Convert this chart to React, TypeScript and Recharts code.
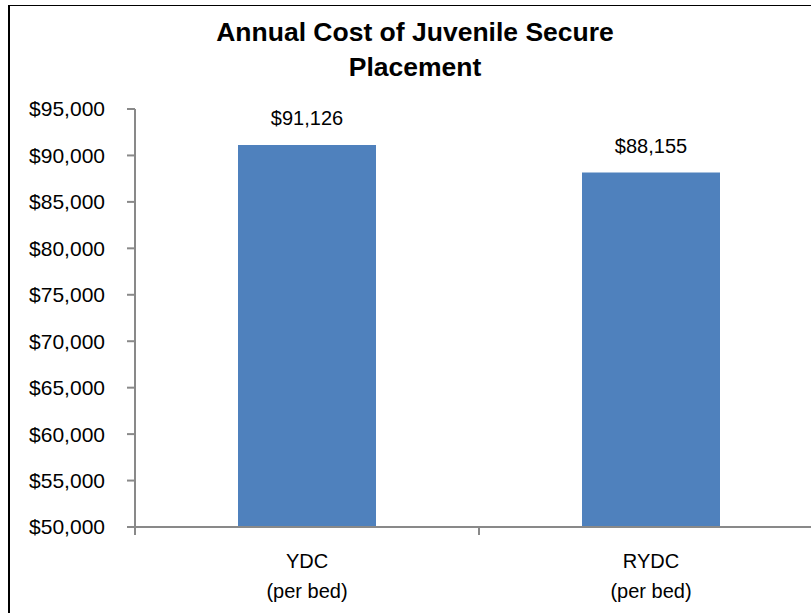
import React from "react";
import { BarChart, Bar, XAxis, YAxis, LabelList } from "recharts";

const categories = ["YDC", "RYDC"];
const categorySubLabels = ["(per bed)", "(per bed)"];
const costValues = [91126, 88155];
const yTicks = [50000, 55000, 60000, 65000, 70000, 75000, 80000, 85000, 90000, 95000];
const titleLines = ["Annual Cost of Juvenile Secure", "Placement"];

const data = categories.map((c, i) => ({
  name: c,
  sub: categorySubLabels[i],
  value: costValues[i],
}));

const CHART_W = 830;
const CHART_H = 613;
const MARGIN = { top: 109, right: 7, bottom: 0, left: 0 };
const Y_AXIS_W = 135;
const PLOT_W = CHART_W - MARGIN.left - MARGIN.right - Y_AXIS_W;
const BAND = PLOT_W / categories.length;
const AXIS_COLOR = "#898989";

const fmt = (v: number) => "$" + v.toLocaleString("en-US");

const CategoryTick = (props: any) => {
  const { x, y, payload, index } = props;
  const sub = categorySubLabels[index] ?? "(per bed)";
  const isLast = index === categories.length - 1;
  return (
    <g>
      <line x1={x - BAND / 2} x2={x - BAND / 2} y1={y} y2={y + 8} stroke={AXIS_COLOR} strokeWidth={2} />
      {isLast && (
        <line x1={x + BAND / 2} x2={x + BAND / 2} y1={y} y2={y + 8} stroke={AXIS_COLOR} strokeWidth={2} />
      )}
      <text x={x} y={y} textAnchor="middle" fill="#000" fontSize={20}>
        <tspan x={x} dy={41}>{payload.value}</tspan>
        <tspan x={x} dy={30}>{sub}</tspan>
      </text>
    </g>
  );
};

export default function App() {
  return (
    <div
      style={{
        position: "absolute",
        left: 0,
        top: 0,
        width: 811,
        height: 613,
        overflow: "hidden",
        background: "#fff",
        fontFamily: "'Liberation Sans', Arial, sans-serif",
      }}
    >
      <div
        style={{
          position: "absolute",
          left: 8,
          top: 5,
          width: 900,
          height: 700,
          borderLeft: "2px solid #000",
          borderTop: "1px solid #000",
        }}
      />
      <div
        style={{
          position: "absolute",
          left: 0,
          top: 15,
          width: 830,
          textAlign: "center",
          fontWeight: "bold",
          fontSize: 26.5,
          lineHeight: "35px",
          color: "#000",
        }}
      >
        {titleLines.map((t) => (
          <div key={t}>{t}</div>
        ))}
      </div>
      <div style={{ position: "absolute", left: 0, top: 0 }}>
        <BarChart
          width={CHART_W}
          height={CHART_H}
          data={data}
          margin={MARGIN}
          barCategoryGap={0}
        >
          <XAxis
            dataKey="name"
            height={86}
            axisLine={{ stroke: AXIS_COLOR, strokeWidth: 2 }}
            tickLine={false}
            tickSize={0}
            tickMargin={0}
            interval={0}
            tick={<CategoryTick />}
          />
          <YAxis
            width={Y_AXIS_W}
            domain={[50000, 95000]}
            ticks={yTicks}
            allowDataOverflow
            tickFormatter={fmt}
            tickSize={8}
            tickMargin={22}
            stroke={AXIS_COLOR}
            strokeWidth={2}
            tick={{ fill: "#000", fontSize: 21 }}
          />
          <Bar
            dataKey="value"
            fill="#4F81BD"
            barSize={138}
            isAnimationActive={false}
          >
            <LabelList
              dataKey="value"
              position="top"
              offset={20}
              formatter={(v: any) => fmt(Number(v))}
              fill="#000"
              fontSize={20}
            />
          </Bar>
        </BarChart>
      </div>
    </div>
  );
}
